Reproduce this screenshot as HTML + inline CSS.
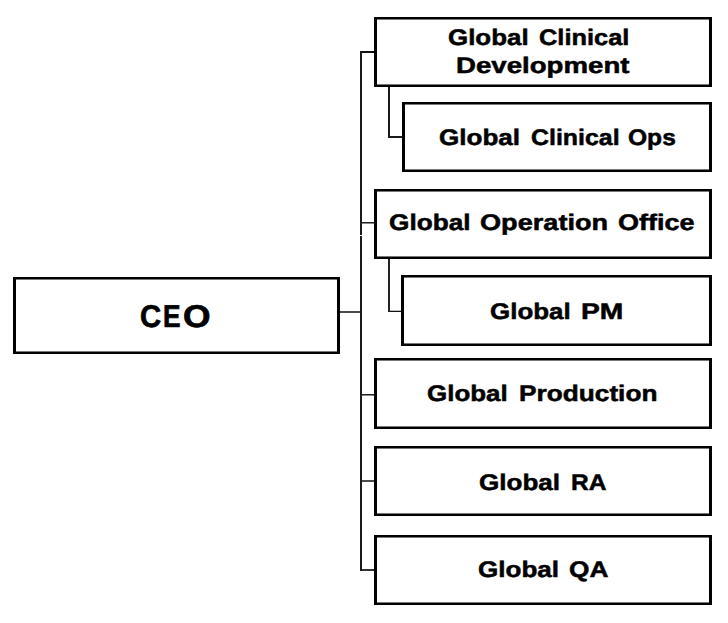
<!DOCTYPE html><html><head><meta charset="utf-8"><style>
html,body{margin:0;padding:0;background:#fff;width:728px;height:623px;overflow:hidden}
.b{position:absolute;box-sizing:border-box;border:3px solid #000;border-top-width:2px;border-bottom-width:2px;background:#fff;box-shadow:inset 0 1px 0 #777,inset 0 -1px 0 #777}
.l{position:absolute}
.t{position:absolute;font-family:"Liberation Sans",sans-serif;font-weight:bold;white-space:nowrap;color:#000;line-height:1;transform-origin:0 0;text-rendering:geometricPrecision}
</style></head><body>
<div class="l" style="left:360px;top:51px;width:2px;height:184px;background:#1c1c1c"></div>
<div class="l" style="left:360px;top:236px;width:2px;height:335px;background:#1c1c1c"></div>
<div class="l" style="left:362px;top:51px;width:12px;height:2px;background:#111"></div>
<div class="l" style="left:362px;top:222px;width:12px;height:1px;background:#222"></div>
<div class="l" style="left:362px;top:223px;width:12px;height:1px;background:#888"></div>
<div class="l" style="left:339px;top:311px;width:21px;height:2px;background:#4a4a4a"></div>
<div class="l" style="left:362px;top:394px;width:12px;height:1px;background:#222"></div>
<div class="l" style="left:362px;top:395px;width:12px;height:1px;background:#888"></div>
<div class="l" style="left:362px;top:480px;width:12px;height:2px;background:#4a4a4a"></div>
<div class="l" style="left:362px;top:569px;width:12px;height:2px;background:#333"></div>
<div class="l" style="left:388px;top:87px;width:2px;height:51px;background:#1a1a1a"></div>
<div class="l" style="left:390px;top:136px;width:12px;height:2px;background:#1a1a1a"></div>
<div class="l" style="left:388px;top:259px;width:2px;height:53px;background:#222"></div>
<div class="l" style="left:390px;top:311px;width:11px;height:1px;background:#111"></div>
<div class="l" style="left:390px;top:310px;width:11px;height:1px;background:#bbb"></div>
<div class="b" style="left:13px;top:277px;width:327px;height:77px"></div>
<div class="b" style="left:374px;top:17px;width:338px;height:70px"></div>
<div class="b" style="left:402px;top:102px;width:310px;height:70px"></div>
<div class="b" style="left:374px;top:189px;width:338px;height:70px"></div>
<div class="b" style="left:401px;top:275px;width:311px;height:71px"></div>
<div class="b" style="left:374px;top:358px;width:338px;height:71px"></div>
<div class="b" style="left:374px;top:446px;width:338px;height:70px"></div>
<div class="b" style="left:374px;top:535px;width:338px;height:70px"></div>
<div class="t" style="left:448.13px;top:26.55px;font-size:22.5px;transform:scale(1.1511,1.0);letter-spacing:0.000px;-webkit-text-stroke:0.5px #000">Global</div>
<div class="t" style="left:538.96px;top:26.55px;font-size:22.5px;transform:scale(1.1291,1.0);letter-spacing:0.000px;-webkit-text-stroke:0.5px #000">Clinical</div>
<div class="t" style="left:456.02px;top:55.45px;font-size:22.5px;transform:scale(1.2279,1.0);letter-spacing:0.000px;-webkit-text-stroke:0.5px #000">Development</div>
<div class="t" style="left:439.22px;top:127.05px;font-size:22.5px;transform:scale(1.1584,1.0);letter-spacing:0.000px;-webkit-text-stroke:0.5px #000">Global</div>
<div class="t" style="left:530.57px;top:127.05px;font-size:22.5px;transform:scale(1.1074,1.0);letter-spacing:0.000px;-webkit-text-stroke:0.5px #000">Clinical</div>
<div class="t" style="left:628.37px;top:127.05px;font-size:22.5px;transform:scale(1.0927,1.0);letter-spacing:0.000px;-webkit-text-stroke:0.5px #000">Ops</div>
<div class="t" style="left:388.72px;top:212.25px;font-size:22.5px;transform:scale(1.1643,1.0);letter-spacing:0.000px;-webkit-text-stroke:0.5px #000">Global</div>
<div class="t" style="left:479.69px;top:212.25px;font-size:22.5px;transform:scale(1.2054,1.0);letter-spacing:0.000px;-webkit-text-stroke:0.5px #000">Operation</div>
<div class="t" style="left:617.69px;top:212.25px;font-size:22.5px;transform:scale(1.2008,1.0);letter-spacing:0.000px;-webkit-text-stroke:0.5px #000">Office</div>
<div class="t" style="left:490.13px;top:301.45px;font-size:22.5px;transform:scale(1.1526,1.0);letter-spacing:0.000px;-webkit-text-stroke:0.5px #000">Global</div>
<div class="t" style="left:580.59px;top:301.45px;font-size:22.5px;transform:scale(1.2546,1.0);letter-spacing:0.000px;-webkit-text-stroke:0.5px #000">PM</div>
<div class="t" style="left:140.29px;top:300.95px;font-size:31.5px;transform:scale(0.9304,1.0);letter-spacing:0.000px;-webkit-text-stroke:0.7px #000">C</div>
<div class="t" style="left:163.46px;top:300.95px;font-size:31.5px;transform:scale(0.8349,1.0);letter-spacing:0.000px;-webkit-text-stroke:0.7px #000">E</div>
<div class="t" style="left:183.23px;top:300.95px;font-size:31.5px;transform:scale(1.1235,1.0);letter-spacing:0.000px;-webkit-text-stroke:0.7px #000">O</div>
<div class="t" style="left:427.33px;top:382.75px;font-size:22.5px;transform:scale(1.1526,1.0);letter-spacing:0.000px;-webkit-text-stroke:0.5px #000">Global</div>
<div class="t" style="left:518.68px;top:382.75px;font-size:22.5px;transform:scale(1.1661,1.0);letter-spacing:0.000px;-webkit-text-stroke:0.5px #000">Production</div>
<div class="t" style="left:479.22px;top:471.75px;font-size:22.5px;transform:scale(1.1584,1.0);letter-spacing:0.000px;-webkit-text-stroke:0.5px #000">Global</div>
<div class="t" style="left:570.75px;top:471.75px;font-size:22.5px;transform:scale(1.0912,1.0);letter-spacing:0.000px;-webkit-text-stroke:0.5px #000">RA</div>
<div class="t" style="left:478.12px;top:559.45px;font-size:22.5px;transform:scale(1.1584,1.0);letter-spacing:0.000px;-webkit-text-stroke:0.5px #000">Global</div>
<div class="t" style="left:568.54px;top:559.45px;font-size:22.5px;transform:scale(1.1666,1.0);letter-spacing:0.000px;-webkit-text-stroke:0.5px #000">QA</div>
</body></html>
